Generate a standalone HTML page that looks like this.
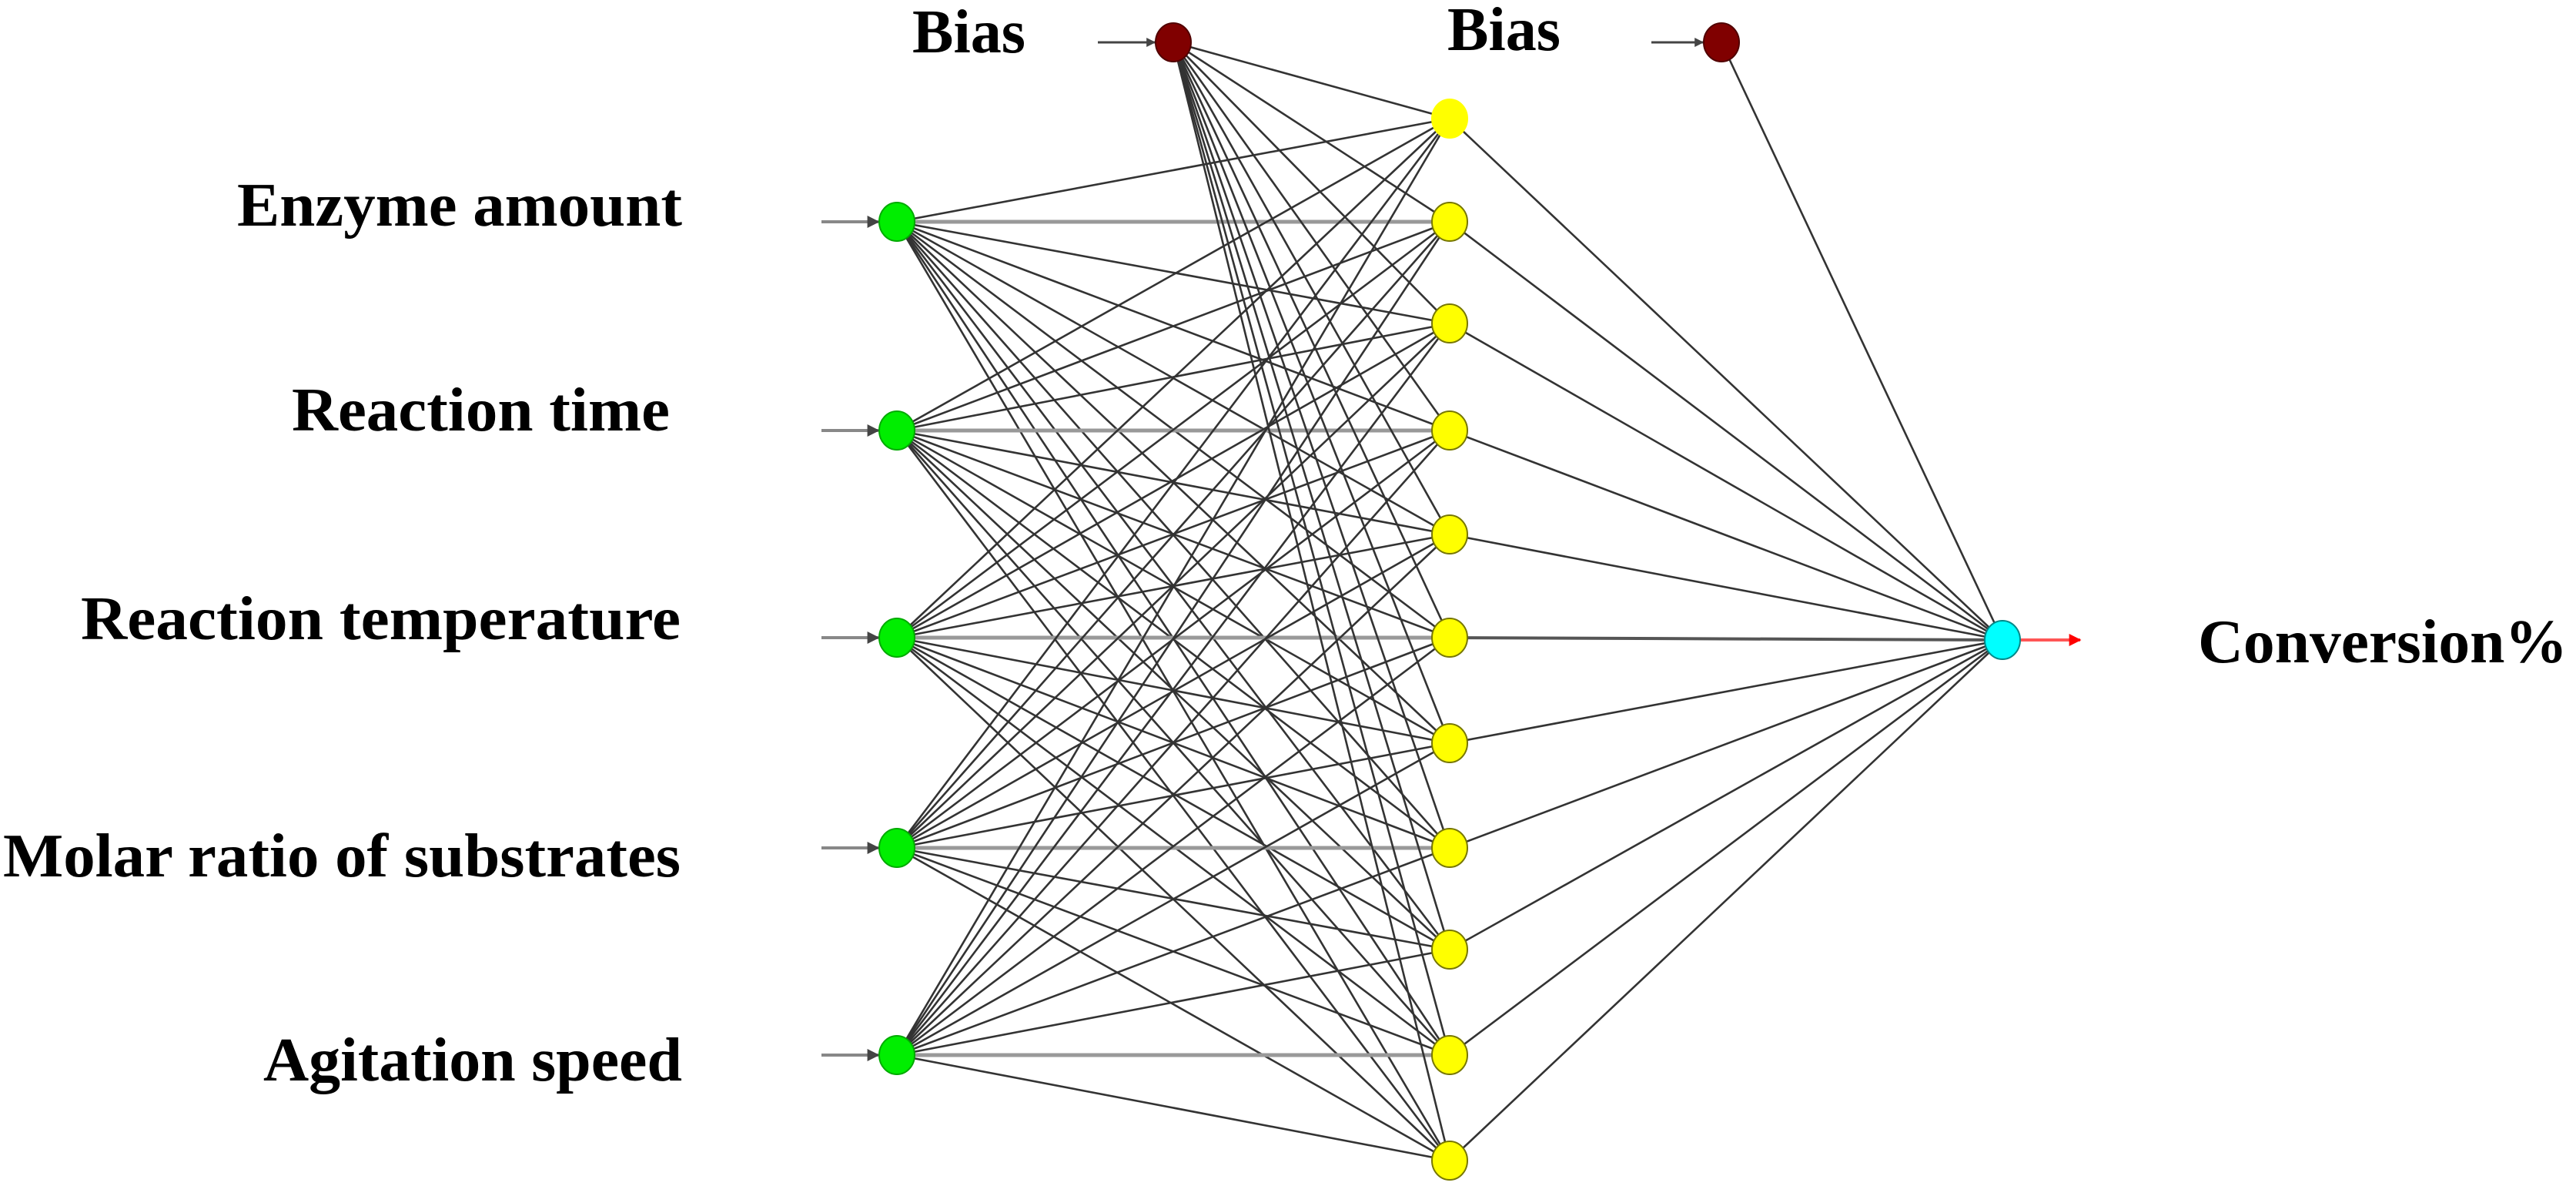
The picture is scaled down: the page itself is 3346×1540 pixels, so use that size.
<!DOCTYPE html>
<html><head><meta charset="utf-8"><style>html,body{margin:0;padding:0;background:#fff}svg{display:block}</style></head>
<body>
<svg width="3346" height="1540" viewBox="0 0 3346 1540" xmlns="http://www.w3.org/2000/svg">
<defs>
<marker id="ah" viewBox="0 0 10 10" refX="9" refY="5" markerWidth="4" markerHeight="4" orient="auto"><path d="M0,0L10,5L0,10z" fill="#444"/></marker>
<marker id="ar" viewBox="0 0 10 10" refX="9" refY="5" markerWidth="4" markerHeight="4" orient="auto"><path d="M0,0L10,5L0,10z" fill="#f00"/></marker>
</defs>
<g font-family="'Liberation Serif',serif" font-weight="bold" font-size="80" fill="#000">
<text x="886" y="293" text-anchor="end" textLength="578" lengthAdjust="spacingAndGlyphs">Enzyme amount</text>
<text x="870" y="559" text-anchor="end" textLength="491" lengthAdjust="spacingAndGlyphs">Reaction time</text>
<text x="884" y="830" text-anchor="end" textLength="779" lengthAdjust="spacingAndGlyphs">Reaction temperature</text>
<text x="884" y="1138" text-anchor="end" textLength="880" lengthAdjust="spacingAndGlyphs">Molar ratio of substrates</text>
<text x="886" y="1403" text-anchor="end" textLength="544" lengthAdjust="spacingAndGlyphs">Agitation speed</text>
<text x="1185" y="68" textLength="147" lengthAdjust="spacingAndGlyphs">Bias</text>
<text x="1880" y="65" textLength="147" lengthAdjust="spacingAndGlyphs">Bias</text>
<text x="2855" y="860" textLength="480" lengthAdjust="spacingAndGlyphs">Conversion%</text>
</g>
<g id="conn" stroke="#333" stroke-width="2.6" fill="none"></g>
<g id="nodes"></g>
</svg>
<script>
(function(){
var NS="http://www.w3.org/2000/svg";
var inY=[288,559,828,1101,1370], inX=1165;
var hY=[154,288,420,559,694,828,965,1101,1233,1370,1507], hX=1883;
var b1=[1524,55], b2=[2236,55], out=[2601,831];
var conn=document.getElementById('conn'), nodes=document.getElementById('nodes');
function line(x1,y1,x2,y2,attrs){var l=document.createElementNS(NS,'line');l.setAttribute('x1',x1);l.setAttribute('y1',y1);l.setAttribute('x2',x2);l.setAttribute('y2',y2);if(attrs)for(var k in attrs)l.setAttribute(k,attrs[k]);conn.appendChild(l);}
function node(x,y,fill,stroke){var e=document.createElementNS(NS,'ellipse');e.setAttribute('cx',x);e.setAttribute('cy',y);e.setAttribute('rx',23);e.setAttribute('ry',25);e.setAttribute('fill',fill);e.setAttribute('stroke',stroke);e.setAttribute('stroke-width',2);nodes.appendChild(e);}
inY.forEach(function(y){line(1067,y,inX-24,y,{stroke:'#888','stroke-width':4,'marker-end':'url(#ah)'});
 hY.forEach(function(h){line(inX,y,hX,h,Math.abs(h-y)<2?{stroke:'#999','stroke-width':5}:null);});});
hY.forEach(function(h){line(b1[0],b1[1],hX,h);line(hX,h,out[0],out[1],h===828?{stroke:'#555','stroke-width':4}:null);});
line(b2[0],b2[1],out[0],out[1]);
line(1426,55,b1[0]-24,55,{stroke:'#444','stroke-width':3,'marker-end':'url(#ah)'});
line(2145,55,b2[0]-24,55,{stroke:'#444','stroke-width':3,'marker-end':'url(#ah)'});
line(out[0]+24,831,2702,831,{stroke:'#f55','stroke-width':4,'marker-end':'url(#ar)'});
inY.forEach(function(y){node(inX,y,'#00ee00','#00aa00');});
hY.forEach(function(h,i){node(hX,h,'#ffff00',i===0?'#ffff00':'#777700');});
node(b1[0],b1[1],'#800000','#500000');node(b2[0],b2[1],'#800000','#500000');
node(out[0],out[1],'#00ffff','#008888');
})();
</script>
</body></html>
